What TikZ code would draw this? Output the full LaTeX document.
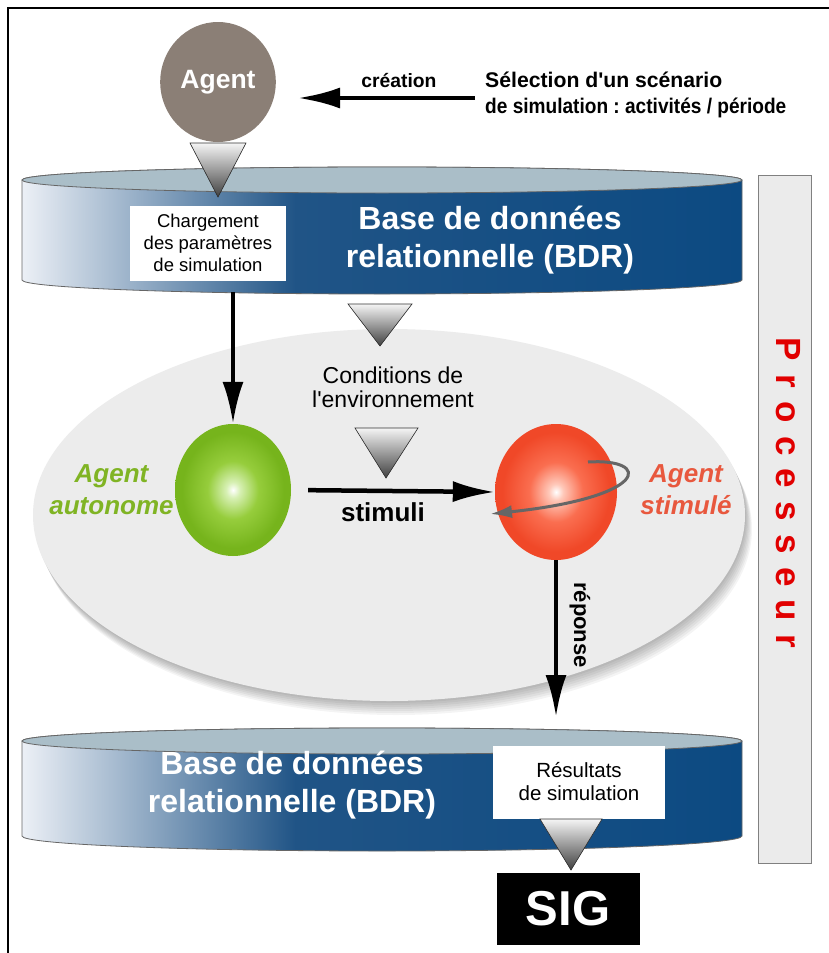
\documentclass[tikz,border=0pt]{standalone}
\usepackage{fontspec}
\usepackage{graphicx}
\setmainfont{Liberation Sans}
\newfontfamily\spaced[LetterSpace=38]{Liberation Sans}
\usetikzlibrary{arrows.meta,shapes.geometric}
\frenchspacing
\definecolor{agentgray}{RGB}{139,127,118}
\definecolor{cylL}{RGB}{236,240,246}
\definecolor{cylM}{RGB}{32,84,134}
\definecolor{cylR}{RGB}{12,74,130}
\definecolor{cyltop}{RGB}{170,190,200}
\definecolor{envgray}{RGB}{236,236,236}
\definecolor{procbg}{RGB}{235,235,235}
\definecolor{gO}{RGB}{118,180,28}
\definecolor{gM}{RGB}{150,205,60}
\definecolor{gL}{RGB}{215,240,180}
\definecolor{rO}{RGB}{240,72,40}
\definecolor{rM}{RGB}{250,110,80}
\definecolor{rL}{RGB}{255,200,185}
\definecolor{gtext}{RGB}{128,180,36}
\definecolor{rtext}{RGB}{232,88,62}
\definecolor{proctext}{RGB}{225,0,0}
\pgfdeclarehorizontalshading{cylshade}{100bp}{color(0bp)=(cylL); color(25bp)=(cylL); color(44bp)=(cylM); color(75bp)=(cylR); color(100bp)=(cylR)}
\pgfdeclareradialshading{gball}{\pgfpoint{0bp}{0bp}}{color(0bp)=(white); color(3bp)=(gL); color(11bp)=(gM); color(22bp)=(gO); color(50bp)=(gO)}
\pgfdeclareradialshading{rball}{\pgfpoint{0bp}{0bp}}{color(0bp)=(white); color(3bp)=(rL); color(11bp)=(rM); color(22bp)=(rO); color(50bp)=(rO)}
\tikzset{
  arr/.style={line width=4.5pt, -{Latex[length=42pt,width=21pt]}},
  wbox/.style={fill=white, align=center, inner sep=0pt},
  bdrtext/.style={text=white, align=center, font={\bfseries\fontsize{32}{38}\selectfont}},
  tri/.style={top color=gray!8, bottom color=black!75, draw=black!80, line width=0.6pt},
  cylface/.style={fill=cyltop, draw=black!60, line width=0.8pt},
  cylbody/.style={shading=cylshade, draw=black!60, line width=0.8pt},
}
\begin{document}
\begin{tikzpicture}[x=1pt,y=-1pt]
\useasboundingbox (0,0) rectangle (829,953);
\fill[white] (0,0) rectangle (829,953);
% frame
\draw[line width=1.2pt] (8,953) -- (8,8) -- (829,8);

% processor box
\node[draw=gray, fill=procbg, line width=1pt, minimum width=53, minimum height=688, anchor=north west, inner sep=0pt] (proc) at (758,175) {};
\node[rotate=-90, text=proctext, font={\spaced\bfseries\fontsize{35}{38}\selectfont}] (proclabel) at (788,493) {Processeur};

% environment ellipse with shadow
\foreach \d in {2,4,...,14}
  \fill[black, opacity=0.045] (389+0.5*\d,515+\d) ellipse [x radius=356, y radius=186];
\node[ellipse, fill=envgray, minimum width=712, minimum height=372, inner sep=0pt] (env) at (389,515) {};

% agent
\node[ellipse, fill=agentgray, minimum width=112, minimum height=120, text=white, font={\bfseries\fontsize{26.5}{30}\selectfont}] (agent) at (218,82) {Agent};
\node[anchor=north west, align=left, inner sep=0pt, font={\bfseries\fontsize{21.2}{26}\selectfont}] (sel) at (485,72) {Sélection d\textquotesingle un scénario\\\scalebox{0.9}[1]{de simulation : activités / période}};
\coordinate (crA) at (475,98);
\coordinate (crB) at (298,98);
\draw[arr] (crA) -- (crB);
\node[font={\bfseries\fontsize{19.3}{24}\selectfont}] (crea) at (399,81) {création};

% top cylinder
\path[cylbody] (22,180) -- (22,280) arc[start angle=180, end angle=0, x radius=360, y radius=14] -- (742,180) arc[start angle=0, end angle=-180, x radius=360, y radius=13] -- cycle;
\path[cylface] (382,180) ellipse [x radius=360, y radius=13];
\fill[tri] (190,143) -- (246,143) -- (218,197) -- cycle;
\node[wbox, minimum width=156, minimum height=75, font={\fontsize{18.5}{22}\selectfont}] (charg) at (208,243) {Chargement\\des paramètres\\de simulation};
\node[bdrtext] (bdr1) at (490,240) {Base de données\\relationnelle (BDR)};

% bottom cylinder
\path[cylbody] (22,741) -- (22,836) arc[start angle=180, end angle=0, x radius=360, y radius=15] -- (742,741) arc[start angle=0, end angle=-180, x radius=360, y radius=13] -- cycle;
\path[cylface] (382,741) ellipse [x radius=360, y radius=13];
\node[bdrtext] (bdr2) at (292,785) {Base de données\\relationnelle (BDR)};
\node[wbox, minimum width=172, minimum height=73, font={\fontsize{20.5}{23}\selectfont}] (res) at (579,782) {Résultats\\de simulation};
\fill[tri] (540,819) -- (602,819) -- (571,870) -- cycle;
\node[fill=black, text=white, minimum width=143, minimum height=72, inner sep=0pt, font={\bfseries\fontsize{49}{52}\selectfont}] (sig) at (568,909) {SIG};

% conditions
\fill[tri] (348,304) -- (412,304) -- (380,346) -- cycle;
\node[align=center, font={\fontsize{23}{24}\selectfont}] (cond) at (393,387) {Conditions de\\l\textquotesingle environnement};
\fill[tri] (355,428) -- (418,428) -- (386,478) -- cycle;

% agents
\node[ellipse, shading=gball, minimum width=116, minimum height=132, inner sep=0pt] (green) at (233,490) {};
\node[ellipse, shading=rball, minimum width=122, minimum height=136, inner sep=0pt] (red) at (556,492) {};
\node[anchor=east, align=center, inner sep=1pt, text=gtext, font={\bfseries\itshape\fontsize{26}{32}\selectfont}] (gl) at (green.west) {Agent\\autonome};
\node[align=center, text=rtext, font={\bfseries\itshape\fontsize{26}{32}\selectfont}] (rl) at (686,490) {Agent\\stimulé};

% arrows
\draw[arr] (green.north |- 0,292) -- (green.north);
\draw[arr, shorten <=17pt] (green.east) -- (red.west);
\node[font={\bfseries\fontsize{26}{28}\selectfont}] (stim) at (383,512) {stimuli};
\draw[line width=3pt, draw=black!60, -{Latex[length=22pt,width=13pt, open, fill=black!60]}] (588,462) .. controls (652,458) and (650,497) .. (490,514);
\draw[arr] (red.south) -- (red.south |- 0,717);
\node[rotate=-90, font={\bfseries\fontsize{22}{24}\selectfont}] (rep) at (580,625) {réponse};
\end{tikzpicture}
\end{document}
